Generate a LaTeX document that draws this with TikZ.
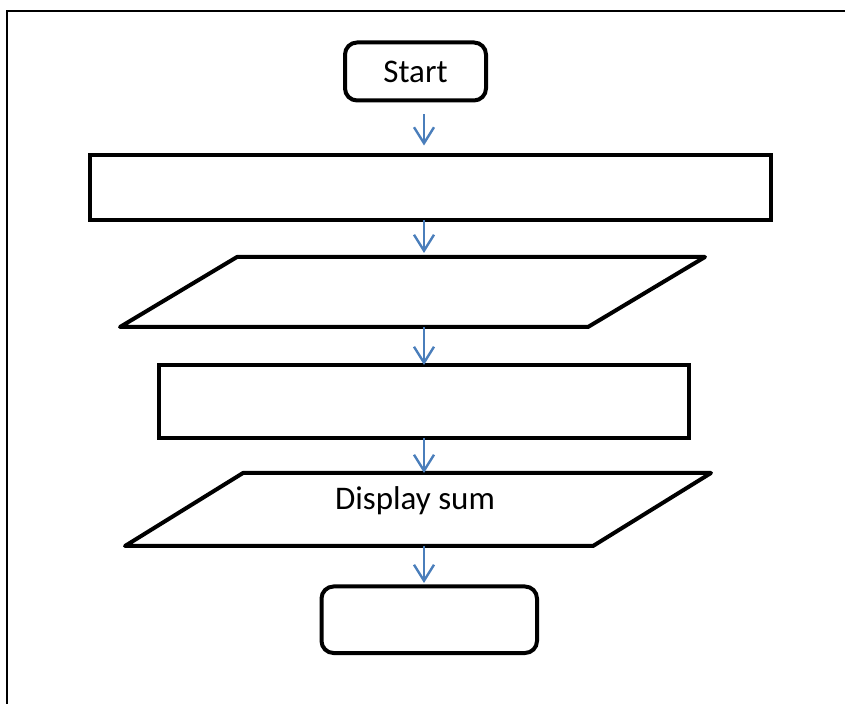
\documentclass[tikz,border=0pt]{standalone}
\usepackage{fontspec}
\setmainfont{Carlito}
\usetikzlibrary{calc,arrows.meta}
\definecolor{arrowblue}{HTML}{4A7EBB}

\begin{document}
\begin{tikzpicture}[x=0.5pt,y=-0.5pt,
    box/.style={draw, line width=2pt, inner sep=0pt, outer sep=0pt},
    terminal/.style={box, rounded corners=6pt},
    io/.style={inner sep=0pt, outer sep=0pt},
    flow/.style={draw=arrowblue, line width=1.2pt, -{Straight Barb[length=8pt,width=10pt]}},
    font=\fontsize{16.5}{20}\selectfont]

      % page size and the frame round it
      \useasboundingbox (0,0) rectangle (845,704);
      \draw[line width=1pt] (7,720) -- (7,11) -- (860,11);

      % terminals and process boxes
      \node[terminal, minimum width=70.5pt, minimum height=29pt] (start) at (415.5,71.5) {Start};
      \node[box, minimum width=340.75pt, minimum height=32.5pt] (init) at (430.25,188) {};
      \node[box, minimum width=265pt, minimum height=36.5pt] (calc) at (424,401.5) {};
      \node[terminal, minimum width=107.75pt, minimum height=33.25pt] (stop) at (429.25,619.75) {};

      % input and output: frame nodes, parallelogram drawn round them
      \node[io, minimum width=292.5pt, minimum height=35pt] (read) at (412.5,292) {};
      \node[io, minimum width=293pt, minimum height=36.5pt] (show) at (418,509.5) {};
      \node (showtext) at (415,501) {Display sum};

      \foreach \n/\s in {read/117,show/118}
        \draw[line width=2pt, line join=round] ($(\n.north west)+(\s,0)$) -- (\n.north east)
          -- ($(\n.south east)-(\s,0)$) -- (\n.south west) -- cycle;

      % flow arrows, all on one column
      \coordinate (col) at (424,0);
      \draw[flow, shorten <=7pt, shorten >=5pt] (start.south -| col) -- (init.north -| col);
      \draw[flow, shorten >=2pt] (init.south -| col) -- (read.north -| col);
      \draw[flow] (read.south -| col) -- (calc.north -| col);
      \draw[flow] (calc.south -| col) -- (show.north -| col);
      \draw[flow, shorten >=1.75pt] (show.south -| col) -- (stop.north -| col);
    \end{tikzpicture}
\end{document}
